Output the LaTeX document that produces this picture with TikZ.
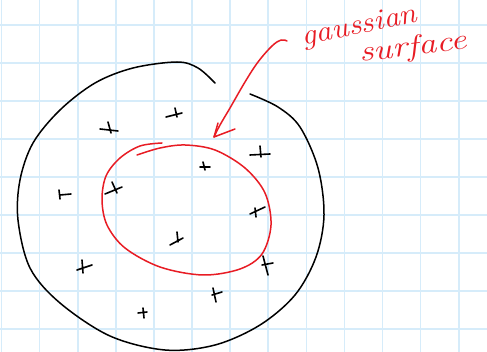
\documentclass[tikz,border=0pt]{standalone}
\usepackage{graphicx}
\definecolor{gridblue}{RGB}{214,236,250}
\definecolor{penred}{RGB}{232,28,36}
\begin{document}
\begin{tikzpicture}[x=1pt,y=-1pt,
  gridline/.style={gridblue,line width=1.6pt},
  ink/.style={black,line width=1.5pt,line cap=round,line join=round},
  redink/.style={penred,line width=1.5pt,line cap=round,line join=round},
  charge/.style={black,line width=1.6pt,line cap=round},
  label/.style={penred,font=\fontsize{29}{29}\selectfont\itshape,inner sep=0pt}]
\useasboundingbox (0,0) rectangle (487,352);
\fill[white] (0,0) rectangle (487,352);
% grid
\foreach \i in {0,...,12} {\draw[gridline] ({1.5+38.1*\i},0) -- ({1.5+38.1*\i},352);}
\foreach \j in {0,...,8} {\draw[gridline] (0,{25+38*\j}) -- (487,{25+38*\j});}
% outer black curve
\draw[ink] plot[smooth,tension=0.55] coordinates {(215,83) (198,68) (177,62) (133,68) (95,83) (60,110) (33,143) (20,180) (18,220) (30,268) (60,303) (110,336) (165,350) (215,345) (260,325) (295,295) (316,257) (324,215) (318,168) (300,127) (278,107) (250,94)};
% red gaussian surface
\draw[redink] plot[smooth,tension=0.55] coordinates {(162,143) (140,146) (120,158) (106,176) (102,200) (107,225) (125,248) (160,267) (203,275) (240,269) (262,254) (271,225) (265,193) (245,168) (215,150) (185,145) (160,148) (137,155)};
% arrow
\coordinate (tip) at (214,137);
\draw[redink] plot[smooth,tension=0.6] coordinates {(287,41) (281,40) (272,46) (258,62) (245,82) (230,108) (220,125) (214,137)};
\draw[redink] (218,123) -- (tip) -- (235,129);
% label
\node[label,anchor=base west,rotate=12] (g) at (303,46) {\scalebox{1.12}[1]{gaussian}};
\node[label,anchor=base west,rotate=7] (s) at (360,62) {\scalebox{1.25}[1]{surface}};
% charges
\draw[charge] (100,129) -- (118,131) (108,122) -- (111,133);
\draw[charge] (166,117) -- (182,113) (175,108) -- (177,117);
\draw[charge] (200,167) -- (210,167) (203,162) -- (205,170);
\draw[charge] (59,190) -- (60,199) (60,195) -- (71,194);
\draw[charge] (105,194) -- (122,187) (112,182) -- (117,193);
\draw[charge] (77,270) -- (92,265) (82,260) -- (83,273);
\draw[charge] (170,245) -- (183,238) (177,232) -- (178,242);
\draw[charge] (212,295) -- (222,292) (213,288) -- (216,302);
\draw[charge] (262,265) -- (273,263) (263,256) -- (268,275);
\draw[charge] (138,313) -- (147,312) (143,308) -- (144,318);
\draw[charge] (250,155) -- (270,154) (260,146) -- (261,157);
\draw[charge] (250,214) -- (265,207) (255,208) -- (256,217);
\end{tikzpicture}
\end{document}
